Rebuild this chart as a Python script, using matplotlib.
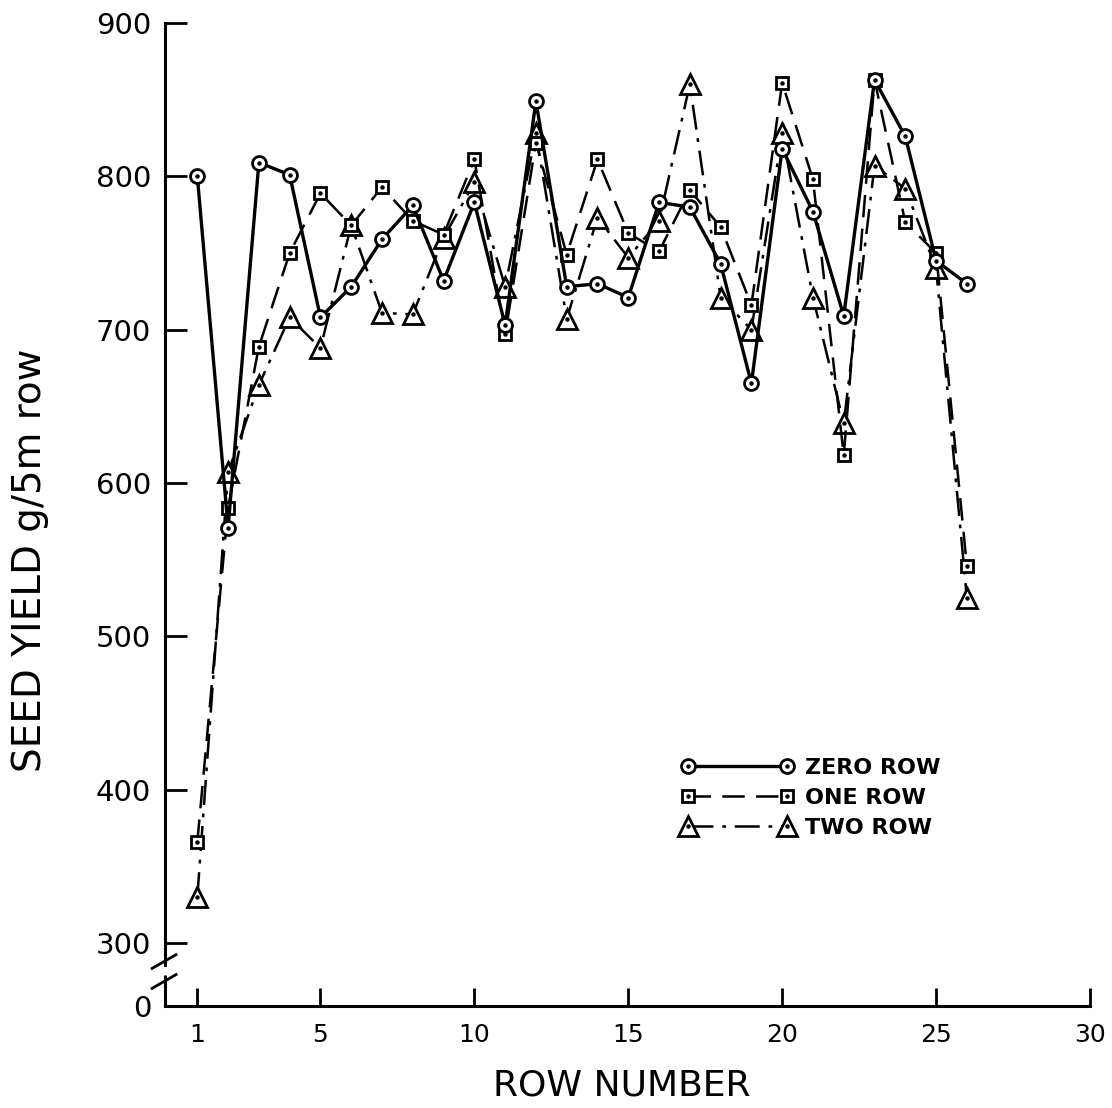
import matplotlib
matplotlib.use("Agg")
import matplotlib.pyplot as plt

# row numbers and seed yield (g / 5 m row)
rows = list(range(1, 27))
zero_row = [800, 571, 809, 801, 708, 728, 759, 781, 732, 783, 703, 849, 728,
            730, 721, 783, 780, 743, 665, 818, 777, 709, 863, 826, 745, 730]
one_row = [366, 584, 689, 750, 789, 768, 793, 771, 762, 811, 697, 822, 749,
           811, 763, 751, 791, 767, 716, 861, 798, 618, 863, 770, 750, 546]
two_row = [330, 607, 664, 708, 688, 768, 711, 710, 760, 796, 728, 828, 707,
           773, 747, 771, 860, 721, 700, 828, 721, 639, 807, 792, 740, 525]

series_labels = ["ZERO ROW", "ONE ROW", "TWO ROW"]
x_ticks = [1, 5, 10, 15, 20, 25, 30]
y_ticks = [300, 400, 500, 600, 700, 800, 900]

plt.rcParams['font.family'] = ['DejaVu Sans']

W, H = 1112, 1108
fig = plt.figure(figsize=(W / 100, H / 100), dpi=100)
ax = fig.add_axes([165 / W, (H - 1006) / H, (1090 - 165) / W, (1006 - 23) / H])

y_bottom = 259  # where the broken axis puts "0"
ax.set_xlim(-0.05, 30)
ax.set_ylim(y_bottom, 900)

# two row
l2, = ax.plot(rows, two_row, color='black', lw=1.8, marker='^', ms=14,
              mfc='white', mec='black', mew=2.0, zorder=3)
l2.set_dashes((10, 3.5, 1.5, 3.5))
d2, = ax.plot(rows, two_row, ls='none', marker='o', ms=2.2, color='black', zorder=3.1)
# one row
l1, = ax.plot(rows, one_row, color='black', lw=1.8, marker='s', ms=9,
              mfc='white', mec='black', mew=2.0, zorder=4)
l1.set_dashes((9, 4.5))
d1, = ax.plot(rows, one_row, ls='none', marker='o', ms=2.2, color='black', zorder=4.1)
# zero row
l0, = ax.plot(rows, zero_row, color='black', lw=2.4, ls='-', marker='o', ms=10,
              mfc='white', mec='black', mew=2.0, zorder=5)
d0, = ax.plot(rows, zero_row, ls='none', marker='o', ms=2.2, color='black', zorder=5.1)

# axes styling
for side in ['top', 'right']:
    ax.spines[side].set_visible(False)
for side in ['left', 'bottom']:
    ax.spines[side].set_linewidth(2.2)

ax.set_xticks(x_ticks)
ax.set_xticklabels([str(t) for t in x_ticks], fontsize=18)
ax.set_yticks(y_ticks)
ax.set_yticklabels([str(t) for t in y_ticks], fontsize=21)
ax.set_yticks([y_bottom], labels=['0'], minor=True)
ax.tick_params(axis='y', which='major', direction='in', length=16, width=2.0, pad=10)
ax.tick_params(axis='y', which='minor', length=0, pad=10, labelsize=21)
ax.tick_params(axis='x', direction='in', length=13, width=2.0, pad=12)

# axis break on the y axis
gap_hi, gap_lo = 286, 279
ax.spines['left'].set_bounds(gap_hi, 900)
ax.plot([-0.05, -0.05], [y_bottom, gap_lo], color='black', lw=2.2,
        clip_on=False, solid_capstyle='butt', zorder=6)
ytr = ax.get_yaxis_transform()
for yc in [gap_hi + 2, gap_lo - 4]:
    ax.plot([-0.014, 0.012], [yc - 4.5, yc + 4.5], transform=ytr, color='black',
            lw=2.0, clip_on=False, zorder=6)

# legend with a marker at both ends of each handle
ax.legend([(l0, d0), (l1, d1), (l2, d2)], series_labels, numpoints=2,
          loc='center left', bbox_to_anchor=(681 / W, 1 - 798 / H),
          bbox_transform=fig.transFigure, frameon=False, borderpad=0,
          borderaxespad=0, handlelength=5.05, handletextpad=0.55,
          labelspacing=0.45, prop={'size': 16, 'weight': 'bold'})

fig.text(622 / W, 1 - 1085 / H, "ROW NUMBER", fontsize=26, ha='center', va='center')
fig.text(30 / W, 1 - 560 / H, "SEED YIELD g/5m row", fontsize=28, rotation=90,
         ha='center', va='center')

fig.savefig('out.png', dpi=100)
